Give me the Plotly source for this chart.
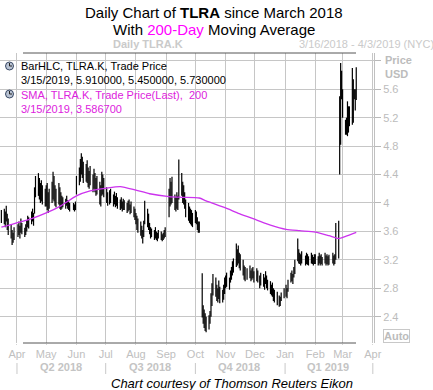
import pandas as pd
import plotly.graph_objects as go

# ---------------- data ----------------
holidays = ["2018-03-30", "2018-05-28", "2018-07-04", "2018-09-03", "2018-11-22",
            "2018-12-05", "2018-12-25", "2019-01-01", "2019-01-21", "2019-02-18"]
dates = pd.bdate_range("2018-03-16", "2019-03-15", freq="C", holidays=holidays)

high_mar18 = [3.90, 3.92, 3.88, 3.96, 3.85, 3.78, 3.70, 3.62, 3.58, 3.66]
low_mar18 = [3.72, 3.70, 3.66, 3.74, 3.62, 3.55, 3.50, 3.41, 3.44, 3.48]
high_apr18 = [3.70, 3.74, 3.68, 3.78, 3.72, 3.65, 3.70, 3.76, 3.82, 3.80, 3.88, 3.92, 3.86, 4.22, 4.38, 4.42, 4.35, 4.28, 4.32, 4.25, 4.20]
low_apr18 = [3.52, 3.55, 3.50, 3.58, 3.56, 3.52, 3.55, 3.60, 3.66, 3.64, 3.70, 3.74, 3.68, 3.85, 4.08, 4.10, 4.05, 4.00, 4.02, 3.98, 3.95]
high_may18 = [4.25, 4.28, 4.15, 4.20, 4.30, 4.44, 4.38, 4.25, 4.20, 4.28, 4.22, 4.15, 4.10, 4.08, 4.06, 4.10, 4.04, 4.02, 4.00, 4.00, 3.98, 4.02]
low_may18 = [3.95, 3.90, 3.86, 3.92, 4.00, 4.05, 4.02, 3.96, 3.94, 3.98, 3.92, 3.90, 3.92, 3.94, 3.92, 3.96, 3.92, 3.90, 3.88, 3.90, 3.88, 3.90]
high_jun18 = [4.38, 4.50, 4.62, 4.70, 4.65, 4.58, 4.55, 4.60, 4.50, 4.45, 4.52, 4.40, 4.48, 4.42, 4.35, 4.38, 4.30, 4.25, 4.44, 4.40, 4.35]
low_jun18 = [4.12, 4.25, 4.30, 4.40, 4.35, 4.28, 4.30, 4.28, 4.22, 4.20, 4.25, 4.15, 4.20, 4.15, 4.10, 4.12, 3.98, 3.95, 4.10, 4.12, 4.08]
high_jul18 = [4.22, 4.15, 4.18, 4.20, 4.12, 4.16, 4.10, 4.14, 4.08, 4.05, 4.08, 4.02, 4.06, 4.04, 4.00, 4.03, 4.05, 3.98, 4.02, 3.95, 3.92]
low_jul18 = [4.00, 3.96, 3.98, 4.00, 3.95, 3.98, 3.94, 3.96, 3.92, 3.90, 3.92, 3.88, 3.90, 3.90, 3.86, 3.88, 3.90, 3.84, 3.86, 3.80, 3.76]
high_aug18 = [3.86, 3.82, 3.78, 3.74, 3.68, 3.62, 3.75, 4.03, 3.92, 3.85, 3.72, 3.66, 3.64, 3.62, 3.66, 3.60, 3.58, 3.62, 3.60, 3.56, 3.58, 3.62, 3.66]
low_aug18 = [3.70, 3.62, 3.58, 3.54, 3.50, 3.43, 3.52, 3.70, 3.66, 3.62, 3.56, 3.50, 3.52, 3.48, 3.50, 3.48, 3.46, 3.50, 3.48, 3.46, 3.48, 3.50, 3.52]
high_sep18 = [4.20, 4.35, 4.30, 4.37, 4.12, 4.08, 4.15, 4.10, 4.61, 4.42, 4.30, 4.25, 4.15, 4.05, 4.00, 3.95, 3.92, 3.90, 3.86]
low_sep18 = [3.80, 3.95, 3.98, 4.00, 3.90, 3.88, 3.92, 3.90, 4.05, 4.10, 4.00, 3.98, 3.92, 3.80, 3.75, 3.72, 3.70, 3.68, 3.66]
high_oct18 = [3.90, 3.88, 3.80, 3.74, 3.74, 3.01, 2.56, 2.50, 2.45, 2.40, 2.42, 2.48, 2.73, 2.87, 3.00, 2.95, 2.85, 2.80, 2.91, 2.82, 2.78, 2.85, 2.95]
low_oct18 = [3.72, 3.70, 3.62, 3.58, 3.58, 2.39, 2.30, 2.24, 2.20, 2.18, 2.22, 2.30, 2.40, 2.55, 2.70, 2.68, 2.62, 2.60, 2.65, 2.59, 2.60, 2.64, 2.72]
high_nov18 = [2.98, 3.02, 2.95, 3.05, 3.10, 3.18, 3.22, 3.43, 3.35, 3.40, 3.30, 3.28, 3.20, 3.12, 3.10, 3.08, 3.12, 3.05, 3.08, 3.10, 3.04]
low_nov18 = [2.80, 2.82, 2.78, 2.88, 2.92, 2.98, 3.02, 3.10, 3.12, 3.15, 3.08, 3.05, 2.98, 2.92, 2.90, 2.92, 2.94, 2.90, 2.92, 2.94, 2.88]
high_dec18 = [3.08, 3.05, 2.98, 3.02, 3.00, 2.95, 3.04, 2.98, 2.92, 2.90, 2.85, 2.88, 2.80, 2.78, 2.75, 2.70, 2.68, 2.74, 2.80]
low_dec18 = [2.90, 2.88, 2.80, 2.84, 2.82, 2.78, 2.86, 2.80, 2.77, 2.72, 2.70, 2.68, 2.62, 2.60, 2.56, 2.54, 2.55, 2.62, 2.66]
high_jan19 = [2.85, 2.80, 2.92, 3.02, 3.05, 3.00, 3.10, 3.20, 3.50, 3.35, 3.30, 3.28, 3.32, 3.26, 3.30, 3.28, 3.25, 3.30, 3.27, 3.24, 3.28]
low_jan19 = [2.68, 2.66, 2.75, 2.88, 2.90, 2.86, 2.95, 3.00, 3.18, 3.15, 3.14, 3.12, 3.15, 3.12, 3.14, 3.13, 3.12, 3.15, 3.14, 3.12, 3.14]
high_feb19 = [3.28, 3.25, 3.30, 3.26, 3.28, 3.24, 3.30, 3.26, 3.28, 3.25, 3.27, 3.30, 3.26, 3.28, 3.72, 3.75, 5.50, 5.97, 5.86]
low_feb19 = [3.14, 3.12, 3.15, 3.12, 3.14, 3.12, 3.15, 3.12, 3.14, 3.12, 3.13, 3.15, 3.12, 3.14, 3.20, 3.22, 4.40, 4.82, 5.46]
high_mar19 = [5.60, 5.17, 5.20, 5.43, 5.36, 5.36, 5.90, 5.74, 5.60, 5.60, 5.91]
low_mar19 = [5.20, 4.96, 4.96, 4.94, 4.99, 5.08, 5.10, 5.13, 5.46, 5.30, 5.45]

sma_dates = ["2018-03-16", "2018-04-16", "2018-05-01", "2018-05-16", "2018-06-01", "2018-06-15",
             "2018-07-02", "2018-07-16", "2018-08-01", "2018-08-15", "2018-09-04", "2018-09-17",
             "2018-10-05", "2018-10-12", "2018-11-01", "2018-11-15", "2018-12-03", "2018-12-17",
             "2019-01-02", "2019-01-16", "2019-02-01", "2019-02-15", "2019-02-25", "2019-03-04",
             "2019-03-15"]
sma_values = [3.66, 3.78, 3.86, 3.96, 4.10, 4.17, 4.21, 4.23, 4.18, 4.13, 4.09, 4.08,
              4.07, 4.03, 3.93, 3.85, 3.76, 3.69, 3.63, 3.61, 3.59, 3.54, 3.50, 3.53, 3.587]

month_ticks = "%b"
quarter_labels = ["Q2 2018", "Q3 2018", "Q4 2018", "Q1 2019"]
quarter_mids = ["2018-05-16", "2018-08-15", "2018-11-15", "2019-02-14"]
quarter_bounds = ["2018-04-01", "2018-07-01", "2018-10-01", "2019-01-01", "2019-04-01"]
price_ticks = [2.4, 2.8, 3.2, 3.6, 4.0, 4.4, 4.8, 5.2, 5.6, 6.0]
price_labels = ["2.4", "2.8", "3.2", "3.6", "4", "4.4", "4.8", "5.2", "5.6", ""]

high = (high_mar18 + high_apr18 + high_may18 + high_jun18 + high_jul18 + high_aug18 + high_sep18 +
        high_oct18 + high_nov18 + high_dec18 + high_jan19 + high_feb19 + high_mar19)
low = (low_mar18 + low_apr18 + low_may18 + low_jun18 + low_jul18 + low_aug18 + low_sep18 +
       low_oct18 + low_nov18 + low_dec18 + low_jan19 + low_feb19 + low_mar19)

n = min(len(dates), len(high), len(low))
bx, by = [], []
for d, h, l in zip(dates[:n], high[:n], low[:n]):
    bx += [d, d, None]
    by += [l, h, None]

# ---------------- geometry helpers ----------------
W, H = 433, 390
L_, R_, T_, B_ = 0, 59, 53, 47
PW = W - L_ - R_
PH = H - T_ - B_


def px(x):
    return (x - L_) / PW


def py(y):
    return (H - B_ - y) / PH


FONT = "Liberation Sans, Arial, sans-serif"
GRAY = "#bcbcbc"

fig = go.Figure()
fig.add_trace(go.Scatter(x=bx, y=by, mode="lines", line=dict(color="black", width=1.2),
                         hoverinfo="skip", showlegend=False))
fig.add_trace(go.Scatter(x=pd.to_datetime(sma_dates), y=sma_values, mode="lines",
                         line=dict(color="#cc33ee", width=1.3, shape="spline", smoothing=0.6),
                         showlegend=False))

anns = []


def ann(text, x, y, size=11, color="black", xanchor="left", xref="paper"):
    anns.append(dict(text=text, x=(px(x) if xref == "paper" else x), y=py(y), xref=xref, yref="paper",
                     xanchor=xanchor, yanchor="middle", showarrow=False,
                     font=dict(family=FONT, size=size, color=color)))


ann("Daily Chart of <b>TLRA</b> since March 2018", 214, 12, 15, "black", "center")
ann("With <span style='color:#ff00ff'>200-Day</span> Moving Average", 214, 30, 15, "black", "center")
ann("<b>Daily TLRA.K</b>", 148, 44, 11, "#cacaca", "center")
ann("3/16/2018 - 4/3/2019 (NYC)", 297, 44, 11, "#cacaca", "left")
ann("BarHLC, TLRA.K, Trade Price", 19, 66, 11, "black")
ann("3/15/2019, 5.910000, 5.450000, 5.730000", 19, 80, 11, "black")
ann("SMA, TLRA.K, Trade Price(Last),  200", 19, 95, 11, "#dd22dd")
ann("3/15/2019, 3.586700", 19, 109, 11, "#dd22dd")
ann("<b>Price</b>", 383, 60, 11, GRAY)
ann("<b>USD</b>", 383, 74, 11, GRAY)
ann("<i>Chart courtesy of Thomson Reuters Eikon</i>", 232, 383, 13, "black", "center")
anns.append(dict(text="<b>Auto</b>", x=px(383), y=py(336), xref="paper", yref="paper",
                 xanchor="left", yanchor="middle", showarrow=False, bordercolor="#c8c8c8",
                 borderwidth=1, borderpad=0, font=dict(family=FONT, size=11, color=GRAY)))
for lab, mid in zip(quarter_labels, quarter_mids):
    anns.append(dict(text="<b>" + lab + "</b>", x=mid, y=py(367), xref="x", yref="paper",
                     xanchor="center", yanchor="middle", showarrow=False,
                     font=dict(family=FONT, size=11, color="#c4c4c4")))

shapes = []
for yy in (53, 343):
    shapes.append(dict(type="line", xref="paper", yref="paper", x0=px(23), x1=px(356),
                       y0=py(yy), y1=py(yy), line=dict(color="#555555", width=1)))
for qb in quarter_bounds:
    shapes.append(dict(type="line", xref="x", yref="paper", x0=qb, x1=qb,
                       y0=py(363), y1=py(374), line=dict(color="#c8c8c8", width=1)))
# legend icons
for cy in (66, 94):
    shapes.append(dict(type="circle", xref="paper", yref="paper", x0=px(5.5), x1=px(13.5),
                       y0=py(cy + 4), y1=py(cy - 4), fillcolor="#b9c3d3",
                       line=dict(color="#3a4a66", width=1)))
    shapes.append(dict(type="line", xref="paper", yref="paper", x0=px(9.5), x1=px(9.5),
                       y0=py(cy), y1=py(cy - 3), line=dict(color="#222222", width=1)))
    shapes.append(dict(type="line", xref="paper", yref="paper", x0=px(9.5), x1=px(12),
                       y0=py(cy), y1=py(cy), line=dict(color="#222222", width=1)))

fig.update_layout(
    width=W, height=H,
    margin=dict(l=L_, r=R_, t=T_, b=B_, pad=0),
    paper_bgcolor="white", plot_bgcolor="white",
    showlegend=False,
    annotations=anns, shapes=shapes,
    xaxis=dict(type="date", range=["2018-03-14 14:00", "2019-04-02 05:00"],
               tick0="2018-04-01", dtick="M1", tickformat=month_ticks,
               showgrid=True, gridcolor="#c6c6c6", gridwidth=1,
               ticks="outside", ticklen=1, tickcolor="#d4d4d4",
               tickfont=dict(family=FONT, size=11, color="#c0c0c0"),
               showline=False, zeroline=False, fixedrange=True),
    yaxis=dict(side="right", range=[2.03, 6.11], tickvals=price_ticks, ticktext=price_labels,
               showgrid=True, gridcolor="#c6c6c6", gridwidth=1,
               ticks="outside", ticklen=6, tickcolor="#b8b8b8",
               showline=True, linecolor="#c0c0c0", linewidth=1,
               tickfont=dict(family=FONT, size=11, color=GRAY),
               zeroline=False, fixedrange=True),
)

fig.write_html("out.html", config={"displayModeBar": False},
               post_script="document.body.style.margin='0';document.body.style.overflow='hidden';")
